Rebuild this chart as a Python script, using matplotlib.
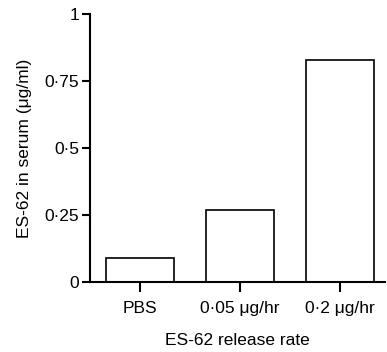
import matplotlib
matplotlib.use('Agg')
import matplotlib.pyplot as plt

plt.rcParams['font.family'] = ['Liberation Sans', 'DejaVu Sans']

# Data
groups = ['PBS', '0\u00b705 \u03bcg/hr', '0\u00b72 \u03bcg/hr']
serum_levels = [0.09, 0.27, 0.83]
yticks = [0, 0.25, 0.5, 0.75, 1]
ytick_labels = ['0', '0\u00b725', '0\u00b75', '0\u00b775', '1']

fig = plt.figure(figsize=(3.87, 3.52), dpi=100)
ax = fig.add_axes([0.2326, 0.199, 0.762, 0.761])

ax.bar(range(len(groups)), serum_levels, width=0.68,
       facecolor='white', edgecolor='black', linewidth=1.2)

ax.set_xlim(-0.5, 2.45)
ax.set_ylim(0, 1)
ax.set_xticks(range(len(groups)))
ax.set_xticklabels(groups, fontsize=12.5)
ax.set_yticks(yticks)
ax.set_yticklabels(ytick_labels, fontsize=12.5)

ax.spines['top'].set_visible(False)
ax.spines['right'].set_visible(False)
for s in ['left', 'bottom']:
    ax.spines[s].set_linewidth(1.5)
ax.tick_params(axis='y', direction='out', length=6, width=1.5, pad=2)
ax.tick_params(axis='x', direction='out', length=7, width=1.5, pad=7)

ax.set_ylabel('ES-62 in serum (\u03bcg/ml)', fontsize=12.5, labelpad=9)
ax.set_xlabel('ES-62 release rate', fontsize=12.5, labelpad=12)

fig.savefig('out.png', dpi=100)
